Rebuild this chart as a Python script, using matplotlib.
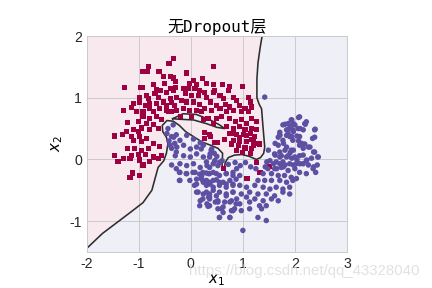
import matplotlib
matplotlib.use('Agg')
import matplotlib.pyplot as plt
import numpy as np

# class 0 (red squares)
red_x = [-0.34, -0.42, -0.82, -0.93, -0.61, -0.53, -0.39, -0.33, -0.29, -1.27,
         -0.97, -0.71, -0.51, -0.66, -0.58, -0.39, -0.29, -0.34, -0.47, -0.69,
         -0.85, -0.98, -0.82, -0.40, -0.28, -0.63, -1.11, -0.98, -0.88, -0.79,
         -0.66, -0.53, -0.47, -0.37, -0.31, -1.30, -1.14, -1.04, -0.92, -0.79,
         -0.72, -0.60, -0.47, -0.37, -0.28,
         0.43, -0.09, 0.05, 0.23, -0.02, 0.11, -0.15, -0.05, 0.08, 0.17,
         0.30, 0.43, 0.61, 0.75, 0.72, 0.99, 0.46, 0.43, 0.27, -0.11,
         0.01, 0.14, 0.30, 0.56, 0.62, 0.82, 0.88, 1.10, 1.14, -0.18,
         -0.08, 0.05, 0.17, 0.37, 0.50, 0.66, 0.75, 0.94, 1.04, 1.17,
         -0.15, -0.02, 0.11, 0.27, 0.40, 0.56, 0.69, 0.82, 0.98, 1.10,
         -0.92, -0.79, -0.66, -0.56, -1.01, -1.21, -0.85, -0.72, -0.95, -1.11,
         -1.24, -1.46, -1.31, -1.01, -0.79, -0.63, -1.14, -0.98, -0.85, -1.11,
         -0.72, -0.95, -1.21, -1.08, -0.95, -0.82, -0.60, -1.14, -1.01, -0.88,
         -0.72, -0.56, -1.46, -1.30, -1.17, -1.40, -0.98, -0.79, -0.63, -0.92,
         -1.17, -1.12, -0.98, -0.83, -0.94, -0.62, -0.08,
         0.24, 0.33, 0.50, 0.59, 0.75, 0.85, 0.98, 1.07, 1.17, 1.26,
         0.69, 0.82, 0.94, 1.04, 1.17, 1.26, 0.75, 0.88, 1.01, 1.14,
         1.23, 0.82, 0.94, 1.07, 1.20, 1.30, 1.04, 1.17, 1.14, 0.37,
         0.27, 0.65, 0.81, 0.94, 1.07, 1.16, 0.78, 0.91, 1.04, 1.20,
         1.32, 0.88, 1.00, 0.27, 0.36, 0.45, 0.52, 0.44,
         1.27, 1.52, 1.33, 1.08, 0.62, -0.42, 0.20, -0.20, 0.02]
red_y = [1.63, 1.55, 1.50, 1.42, 1.43, 1.35, 1.35, 1.32, 1.27, 1.17,
         1.17, 1.21, 1.23, 1.13, 1.11, 1.15, 1.16, 1.11, 1.08, 1.07,
         1.04, 1.01, 0.99, 0.99, 1.01, 1.00, 0.91, 0.93, 0.88, 0.91,
         0.91, 0.93, 0.88, 0.92, 0.88, 0.80, 0.84, 0.77, 0.78, 0.82,
         0.77, 0.82, 0.80, 0.77, 0.80,
         1.50, 1.39, 1.28, 1.31, 1.23, 1.21, 1.15, 1.15, 1.15, 1.12,
         1.23, 1.21, 1.21, 1.18, 1.12, 1.18, 1.12, 1.08, 1.09, 1.07,
         1.04, 1.04, 1.01, 1.04, 0.99, 1.00, 0.96, 1.00, 0.93, 0.96,
         0.93, 0.93, 0.89, 0.93, 0.88, 0.89, 0.85, 0.88, 0.82, 0.85,
         0.82, 0.80, 0.80, 0.82, 0.80, 0.82, 0.78, 0.80, 0.77, 0.77,
         0.69, 0.67, 0.69, 0.64, 0.61, 0.60, 0.58, 0.56, 0.51, 0.48,
         0.45, 0.38, 0.41, 0.45, 0.48, 0.50, 0.37, 0.37, 0.34, 0.31,
         0.26, 0.29, 0.18, 0.18, 0.15, 0.18, 0.21, 0.07, 0.08, 0.08,
         0.04, 0.07, 0.07, 0.02, 0.02, -0.04, -0.01, -0.04, 0.02, -0.09,
         -0.30, -0.22, -0.26, 1.42, 1.17, 1.43, 1.40,
         0.64, 0.67, 0.66, 0.69, 0.67, 0.61, 0.64, 0.58, 0.67, 0.61,
         0.53, 0.50, 0.53, 0.48, 0.50, 0.48, 0.42, 0.40, 0.40, 0.42,
         0.37, 0.31, 0.29, 0.29, 0.29, 0.26, 0.18, 0.18, 0.10, 0.37,
         0.34, 0.33, 0.42, 0.36, 0.39, 0.33, 0.25, 0.23, 0.20, 0.23,
         0.25, 0.14, 0.11, 0.44, 0.40, 0.27, 0.28, 0.58,
         -0.05, -0.11, -0.21, -0.31, -0.14, 0.78, 0.78, 0.70, 0.70]

# class 1 (purple circles)
blue_x = [2.09, 1.94, 1.97, 1.91, 2.00, 2.20, 1.81, 2.10, 1.87, 1.97,
          2.16, 2.39, 1.71, 1.84, 1.94, 2.04, 2.34, 1.62, 2.07, 2.13,
          1.78, 1.49, 1.71, 1.81, 1.91, 1.97, 2.16, 2.26, 2.36, 2.44,
          1.62, 1.71, 1.84, 1.94, 2.04, 2.16, 2.23, 2.32, 1.46, 1.59,
          1.71, 1.81, 1.97, 2.10, 2.26, 2.36, 2.43, 1.43, 1.65, 1.78,
          1.71, 1.87, 1.68, 1.77, 1.96, 2.09, 2.19, 2.29, 2.38, 2.45,
          1.68, 1.84, 1.93, 1.61, 1.74, 1.87, 2.00, 2.09, 2.22, 2.35,
          2.40, 1.52, 1.64, 1.77, 1.90, 2.03, 2.16, 1.48, 1.61, 1.74,
          1.87, 2.00, 2.09, 2.22, 1.39, 1.55, 1.68, 1.80, 1.93, 2.03,
          1.29, 1.42, 1.55, 1.71, 1.84, 1.96, 1.90, 1.77, 1.64, 1.52,
          1.39, 1.23, 1.07, 0.94, 0.81, 0.68, 0.55, 0.43, 0.30, 0.20,
          0.23, 0.36, 0.49, 0.68, 0.81, 0.94, 0.36, 0.52, 0.88, 0.30,
          0.46, 0.36, 0.20, 0.39, 0.81, 0.97, 1.13, 1.29, 1.45, 1.61,
          1.77, 1.90, 0.55, 0.43, 0.30, 0.68, 0.88, 1.07, 1.23, 1.39,
          1.55, 1.68, 0.52, 0.36, 0.75, 0.94, 1.13, 1.32, 1.45, 0.62,
          0.81, 0.97, 1.13, 1.36, 0.52, 0.36, 0.55, 0.75, 1.29, 1.45,
          1.00,
          -0.22, -0.09, 0.04, 0.17, 0.30, 0.43, 0.55, 0.68, 0.81, -0.22,
          0.11, 0.23, 0.36, 0.49, 0.62, 0.75, 0.87, 0.07, 0.30, 0.43,
          0.55, 0.68, 0.81, 0.14, 0.36, 0.49, 0.68, 0.81, 0.23, 0.36,
          0.52, 0.65, 0.78, 0.87, 0.17, 0.33, 0.59, 0.78, 0.84, 0.62,
          0.55, 0.75,
          -0.33, -0.21, -0.08, 0.05, 0.18, -0.40, -0.27, -0.14, -0.01, 0.11,
          0.24, 0.40, -0.30, -0.14, -0.01, 0.11, 0.24, 0.37, -0.21, -0.08,
          0.05, 0.18, 0.31, 0.43, -0.21, -0.08, 0.08, 0.21, 0.34, -0.21,
          -0.02, 0.11, 0.24, 0.37, 0.11, 0.24, 0.34, 0.18, 0.31, 0.47,
          -0.44, -0.34, -0.46, -0.37, -0.28, -0.42, -0.31, -0.37, -0.28, -0.37,
          -0.28,
          1.77, 1.87, 1.93, 2.07, 2.19, 2.22, 1.84, 1.96, 2.06, 2.38,
          1.71, 1.90, 2.09, 2.38, 1.42,
          0.50, 0.55, 0.72, 0.85, 0.95, 1.05, 1.15, 1.25, 0.45, 0.60]
blue_y = [0.69, 0.64, 0.58, 0.53, 0.56, 0.57, 0.57, 0.50, 0.48, 0.45,
          0.48, 0.49, 0.39, 0.39, 0.37, 0.38, 0.34, 0.26, 0.30, 0.26,
          0.26, 0.15, 0.12, 0.15, 0.11, 0.15, 0.18, 0.20, 0.12, 0.04,
          0.07, 0.04, 0.04, 0.02, -0.01, 0.07, -0.01, 0.02, -0.04, -0.07,
          -0.07, -0.09, -0.09, -0.07, -0.09, -0.12, -0.09, -0.12, -0.15, -0.12,
          0.44, 0.42, 0.36, 0.31, 0.31, 0.23, 0.25, 0.20, 0.12, 0.04,
          0.23, 0.20, 0.15, 0.09, 0.06, 0.06, 0.04, 0.06, -0.02, -0.15,
          -0.21, -0.02, -0.04, -0.04, -0.07, -0.07, -0.07, -0.15, -0.15, -0.13,
          -0.18, -0.15, -0.21, -0.23, -0.23, -0.23, -0.26, -0.26, -0.29, -0.31,
          -0.34, -0.34, -0.34, -0.34, -0.37, -0.34, -0.45, -0.48, -0.45, -0.48,
          -0.45, -0.42, -0.45, -0.42, -0.40, -0.40, -0.37, -0.34, -0.34, -0.31,
          -0.21, -0.23, -0.23, -0.23, -0.26, -0.26, -0.13, -0.10, -0.15, -0.04,
          -0.02, 0.04, 0.17, 0.15, -0.53, -0.56, -0.53, -0.56, -0.56, -0.59,
          -0.53, -0.56, -0.53, -0.50, -0.53, -0.59, -0.64, -0.61, -0.64, -0.67,
          -0.64, -0.67, -0.67, -0.64, -0.69, -0.72, -0.69, -0.75, -0.75, -0.77,
          -0.83, -0.83, -0.80, -0.80, -0.80, -0.75, -0.94, -0.94, -0.94, -0.99,
          -1.15,
          -0.21, -0.23, -0.21, -0.24, -0.22, -0.21, -0.26, -0.23, -0.21, -0.34,
          -0.32, -0.34, -0.37, -0.33, -0.37, -0.34, -0.32, -0.42, -0.42, -0.45,
          -0.42, -0.45, -0.42, -0.53, -0.56, -0.59, -0.56, -0.53, -0.64, -0.61,
          -0.69, -0.69, -0.67, -0.72, -0.75, -0.76, -0.80, -0.83, -0.80, -0.86,
          -0.94, -0.94,
          0.36, 0.31, 0.39, 0.33, 0.27, 0.23, 0.20, 0.23, 0.17, 0.20,
          0.23, 0.17, 0.06, 0.06, 0.04, 0.09, 0.04, 0.09, -0.07, -0.10,
          -0.07, -0.13, -0.10, -0.07, -0.21, -0.23, -0.21, -0.26, -0.23, -0.34,
          -0.34, -0.40, -0.37, -0.40, -0.53, -0.56, -0.61, -0.67, -0.72, -0.69,
          0.50, 0.56, 0.42, 0.37, 0.40, 0.30, 0.26, 0.18, 0.12, -0.09,
          -0.15,
          0.56, 0.58, 0.64, 0.68, 0.58, 0.61, 0.48, 0.48, 0.50, 0.48,
          0.40, 0.37, 0.37, 0.36, 1.01,
          0.05, -0.05, -0.08, -0.05, -0.10, -0.05, -0.12, -0.15, 0.10, -0.02]

# decision boundary (top edge -> bottom-left corner)
bnd_x = [1.37, 1.33, 1.29, 1.27, 1.27, 1.31, 1.36, 1.38, 1.40, 1.42,
         1.40, 1.34, 1.26, 1.12, 0.98, 0.84, 0.72, 0.66, 0.64, 0.60,
         0.61, 0.52, 0.38, 0.22, 0.05, -0.10, -0.22, -0.34, -0.46, -0.55,
         -0.54, -0.47, -0.44, -0.47, -0.52, -0.63, -0.75, -0.92, -1.15, -1.37,
         -1.70, -2.00]
bnd_y = [2.00, 1.80, 1.56, 1.30, 1.00, 0.90, 0.82, 0.60, 0.40, 0.20,
         0.10, 0.03, 0.00, 0.05, 0.08, 0.07, 0.03, -0.05, -0.17, -0.12,
         0.10, 0.18, 0.23, 0.28, 0.37, 0.45, 0.55, 0.62, 0.63, 0.55,
         0.45, 0.36, 0.26, 0.10, -0.02, -0.13, -0.50, -0.70, -0.85, -0.99,
         -1.20, -1.44]

# small lavender island inside the red zone
isl_x = [-0.35, -0.15, 0.10, 0.35, 0.55, 0.65, 0.50, 0.30, 0.05, -0.20, -0.35]
isl_y = [0.66, 0.74, 0.73, 0.65, 0.56, 0.50, 0.52, 0.58, 0.64, 0.65, 0.66]

RED = '#9e0142'
PURPLE = '#5e4fa2'
PINK = '#f7e9ee'
LAVENDER = '#eff0f7'
LINE = '#2e2e2e'

plt.rcParams['font.family'] = ['Liberation Sans', 'DejaVu Sans']
plt.rcParams['axes.unicode_minus'] = False

fig = plt.figure(figsize=(6, 4), dpi=72)
ax = fig.add_axes([0.201, 0.125, 0.602, 0.75])
ax.set_facecolor(LAVENDER)

# pink region = left/top of the boundary
poly_x = bnd_x + [-2.0]
poly_y = bnd_y + [2.0]
ax.fill(poly_x, poly_y, color=PINK, lw=0, zorder=0.2)
ax.fill(isl_x, isl_y, color=LAVENDER, lw=0, zorder=0.3)

ax.grid(True, color='#cbcbcb', lw=1)
ax.set_axisbelow(True)

ax.plot(bnd_x, bnd_y, color=LINE, lw=1.6, zorder=2)
ax.plot(isl_x, isl_y, color=LINE, lw=1.6, zorder=2)

ax.scatter(red_x, red_y, marker='s', s=26, c=RED, edgecolors='none', zorder=3)
ax.scatter(blue_x, blue_y, marker='o', s=30, c=PURPLE, edgecolors='none', zorder=3)

ax.set_xlim(-2, 3)
ax.set_ylim(-1.5, 2)
ax.set_xticks([-2, -1, 0, 1, 2, 3])
ax.set_yticks([-1, 0, 1, 2])
ax.tick_params(length=0, labelsize=14, pad=5, labelcolor='#262626')
for sp in ax.spines.values():
    sp.set_color('#cbcbcb')
    sp.set_linewidth(1)

ax.set_xlabel('$x_1$', fontsize=15, labelpad=1)
ax.set_ylabel('$x_2$', fontsize=15, labelpad=4)
ax.set_title('无Dropout层', fontsize=16, pad=4,
             family=['DejaVu Sans Mono', 'Noto Sans CJK SC'])

# faint watermark, as in the source image
fig.text(0.97, 0.06, 'https://blog.csdn.net/qq_43328040', fontsize=15,
         color='#dcdcdc', alpha=0.85, ha='right', va='center', zorder=0)

fig.savefig('out.png', dpi=72)
